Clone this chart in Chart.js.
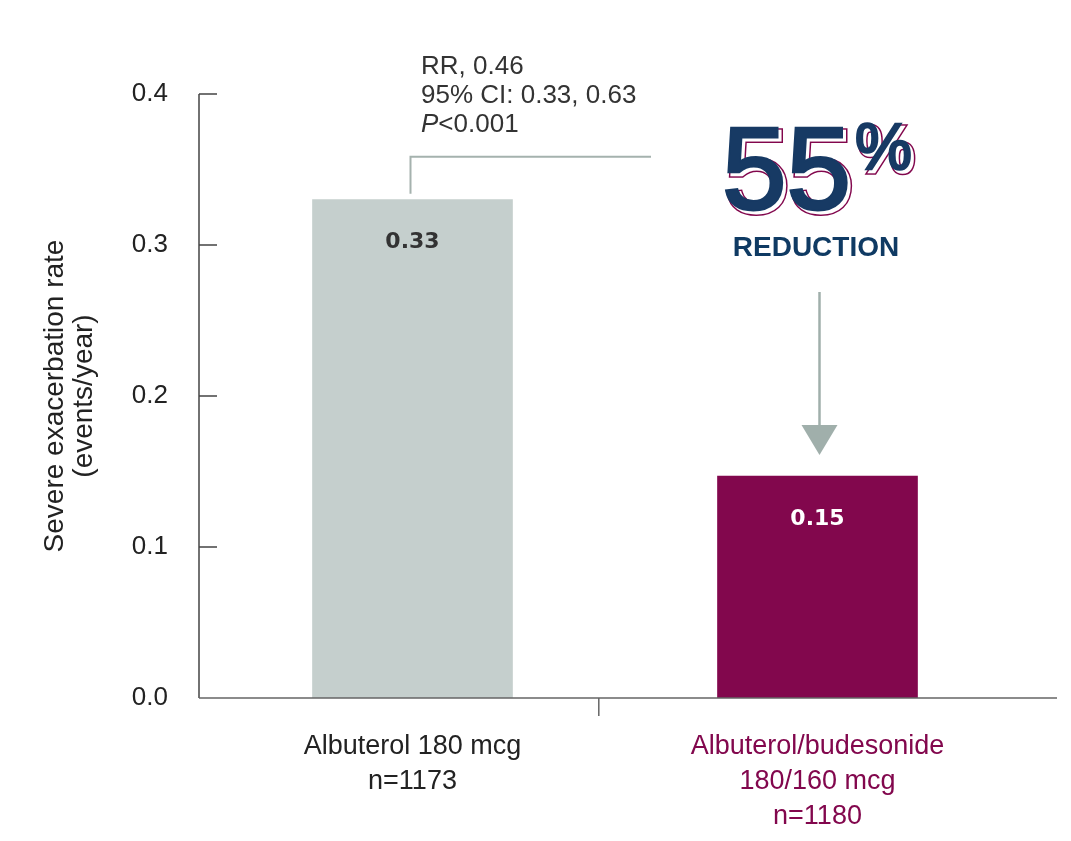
<!DOCTYPE html>
<html>
<head>
<meta charset="utf-8">
<script src="https://cdn.jsdelivr.net/npm/chart.js@4.4.1/dist/chart.umd.min.js"></script>
<style>
  html, body { margin: 0; padding: 0; background: #fff; }
  #wrap { width: 1071px; height: 841px; position: relative; }
</style>
</head>
<body>
<div id="wrap"><canvas id="chart"></canvas></div>
<script>
// Chart data
const categories = [
  ['Albuterol 180 mcg', 'n=1173'],
  ['Albuterol/budesonide', '180/160 mcg', 'n=1180']
];
const rates = [0.33, 0.147];
const rateLabels = ['0.33', '0.15'];
const yTicks = [0, 0.1, 0.2, 0.3, 0.4];
const barColors = ['#C5CFCD', '#82074D'];
const labelColors = ['#222222', '#82074D'];
const valueColors = ['#333333', '#ffffff'];
const statLines = ['RR, 0.46', '95% CI: 0.33, 0.63', '<0.001'];
const reduction = ['55', '%', 'REDUCTION'];

const FONT = '"Liberation Sans", Arial, Helvetica, sans-serif';
const NAVY = '#173A64';
const MAROON = '#82074D';
const ARROW = '#A0AFAB';

// Axes, ticks and annotations drawn on top
const overlay = {
  id: 'overlay',
  afterDraw(chart) {
    const ctx = chart.ctx;
    const x = chart.scales.x;
    const y = chart.scales.y;
    const axisX = chart.chartArea.left - 11;
    const y0 = y.getPixelForValue(0);
    const yTop = y.getPixelForValue(yTicks[yTicks.length - 1]);

    ctx.save();
    // y axis + inner ticks
    ctx.strokeStyle = '#444';
    ctx.lineWidth = 1.5;
    ctx.beginPath();
    ctx.moveTo(axisX, yTop);
    ctx.lineTo(axisX, y0);
    yTicks.slice(1).forEach(v => {
      const py = y.getPixelForValue(v);
      ctx.moveTo(axisX, py);
      ctx.lineTo(axisX + 18, py);
    });
    ctx.stroke();

    // x axis + divider tick
    ctx.strokeStyle = '#666';
    ctx.beginPath();
    ctx.moveTo(axisX, y0);
    ctx.lineTo(1057, y0);
    const divX = x.getPixelForValue(0.46);
    ctx.moveTo(divX, y0);
    ctx.lineTo(divX, y0 + 18);
    ctx.stroke();

    // values inside bars
    ctx.font = 'bold 22px "DejaVu Sans", Verdana, sans-serif';
    ctx.textAlign = 'center';
    ctx.textBaseline = 'middle';
    rates.forEach((v, i) => {
      ctx.fillStyle = valueColors[i];
      ctx.fillText(rateLabels[i], x.getPixelForValue(i), y.getPixelForValue(v) + 43);
    });

    // bracket from first bar
    const bx = x.getPixelForValue(0) - 2;
    const by = y.getPixelForValue(rates[0]);
    ctx.strokeStyle = '#A5B2AE';
    ctx.lineWidth = 2;
    ctx.beginPath();
    ctx.moveTo(bx, by - 6);
    ctx.lineTo(bx, by - 43);
    ctx.lineTo(651, by - 43);
    ctx.stroke();

    // statistics text
    ctx.fillStyle = '#333';
    ctx.textAlign = 'left';
    ctx.textBaseline = 'middle';
    ctx.font = '26px ' + FONT;
    ctx.fillText(statLines[0], 421, 67);
    ctx.fillText(statLines[1], 421, 96);
    ctx.font = 'italic 26px ' + FONT;
    ctx.fillText('P', 421, 125);
    const pw = ctx.measureText('P').width;
    ctx.font = '26px ' + FONT;
    ctx.fillText(statLines[2], 421 + pw, 125);

    // 55% with offset outline
    ctx.textBaseline = 'alphabetic';
    ctx.lineJoin = 'miter';
    function outlined(txt, tx, ty, font, w) {
      ctx.font = font;
      ctx.strokeStyle = MAROON;
      ctx.lineWidth = w + 3;
      ctx.strokeText(txt, tx + 3, ty + 3);
      ctx.strokeStyle = '#fff';
      ctx.lineWidth = w;
      ctx.strokeText(txt, tx + 3, ty + 3);
      ctx.fillStyle = '#fff';
      ctx.fillText(txt, tx + 3, ty + 3);
      ctx.strokeStyle = NAVY;
      ctx.lineWidth = w;
      ctx.strokeText(txt, tx, ty);
      ctx.fillStyle = NAVY;
      ctx.fillText(txt, tx, ty);
    }
    outlined(reduction[0], 722, 209, '116px ' + FONT, 3);
    outlined(reduction[1], 855, 169, '64px ' + FONT, 2.5);
    ctx.fillStyle = '#0F3A63';
    ctx.textAlign = 'center';
    ctx.textBaseline = 'middle';
    ctx.font = 'bold 28px ' + FONT;
    ctx.fillText(reduction[2], 816, 248);

    // arrow to second bar
    const ax = x.getPixelForValue(1) + 2;
    ctx.strokeStyle = ARROW;
    ctx.lineWidth = 2.5;
    ctx.beginPath();
    ctx.moveTo(ax, 292);
    ctx.lineTo(ax, 428);
    ctx.stroke();
    ctx.fillStyle = ARROW;
    ctx.beginPath();
    ctx.moveTo(ax - 18, 425);
    ctx.lineTo(ax + 18, 425);
    ctx.lineTo(ax, 455);
    ctx.closePath();
    ctx.fill();
    ctx.restore();
  }
};

new Chart(document.getElementById('chart'), {
  type: 'bar',
  data: {
    labels: categories,
    datasets: [{
      data: rates,
      backgroundColor: barColors,
      borderWidth: 0,
      barThickness: 200
    }]
  },
  options: {
    responsive: true,
    maintainAspectRatio: false,
    animation: false,
    layout: { padding: { left: 0, right: 51, top: 94, bottom: 0 } },
    plugins: {
      legend: { display: false },
      tooltip: { enabled: false }
    },
    scales: {
      x: {
        grid: { display: false, drawTicks: false },
        border: { display: false },
        ticks: {
          color: labelColors,
          font: { family: FONT, size: 27, lineHeight: 1.3 },
          padding: 31,
          maxRotation: 0
        },
        afterFit: s => { s.height = 143; }
      },
      y: {
        min: 0,
        max: 0.4,
        grid: { display: false, drawTicks: false },
        border: { display: false },
        ticks: {
          stepSize: 0.1,
          color: '#222',
          padding: 42,
          font: { family: FONT, size: 26 },
          callback: v => Number(v).toFixed(1)
        },
        title: {
          display: true,
          text: ['Severe exacerbation rate', '(events/year)'],
          color: '#222',
          font: { family: FONT, size: 28, lineHeight: 1.03 },
          padding: { top: 41, bottom: 0 }
        },
        afterFit: s => { s.width = 210; }
      }
    }
  },
  plugins: [overlay]
});
</script>
</body>
</html>
